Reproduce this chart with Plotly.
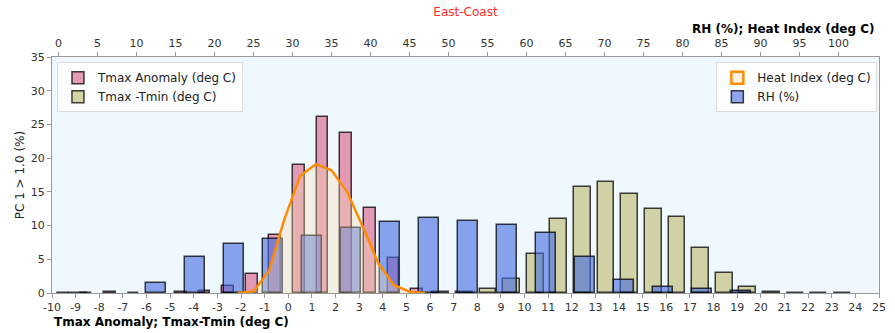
import plotly.graph_objects as go

# ---------------- data ----------------
# Tmax Anomaly histogram (bottom axis, deg C)
tmax_anom_x = [-9.55, -8.55, -7.55, -6.55, -4.55, -3.55, -2.55, -1.55, -0.55,
               0.45, 1.45, 2.45, 3.45, 4.45, 5.45]
tmax_anom_y = [0.05, 0.05, 0.1, 0.05, 0.2, 0.3, 1.0, 2.8, 8.6,
               19.0, 26.1, 23.8, 12.6, 5.2, 0.65]

# Tmax - Tmin histogram (bottom axis, deg C)
tmax_tmin_x = [6.45, 7.45, 8.45, 9.45, 10.45, 11.45, 12.45, 13.45, 14.45,
               15.45, 16.45, 17.45, 18.45, 19.45, 20.45, 21.45, 22.45, 23.45]
tmax_tmin_y = [0.1, 0.1, 0.65, 2.05, 5.8, 11.0, 15.7, 16.4, 14.7,
               12.4, 11.2, 6.7, 2.9, 0.9, 0.1, 0.05, 0.05, 0.05]

# RH histogram (top axis, %)
rh_x = [2.5, 12.5, 17.5, 22.5, 27.5, 32.5, 37.5, 42.5, 47.5, 52.5,
        57.5, 62.5, 67.5, 72.5, 77.5, 82.5, 87.5]
rh_y = [0.05, 1.5, 5.3, 7.2, 8.0, 8.4, 9.6, 10.6, 11.1, 10.7,
        10.1, 8.9, 5.4, 2.0, 0.9, 0.6, 0.3]

# Heat Index distribution (top axis, deg C)
hi_x = [23, 25, 27, 29, 31, 33, 35, 37, 39, 41, 43, 45, 47]
hi_y = [0.0, 0.24, 3.35, 11.1, 17.4, 19.1, 18.2, 15.0, 9.85, 4.4, 1.2, 0.2, 0.0]

bottom_ticks = list(range(-10, 26))
bottom_labels = [str(v) for v in bottom_ticks]
top_ticks = list(range(0, 101, 5))
y_ticks = list(range(0, 36, 5))

FONT = "DejaVu Sans"
EDGE = "rgba(0,0,0,0.75)"
SPINE = "#9a9a9a"
TICKC = "#333333"

fig = go.Figure()

fig.add_trace(go.Bar(x=tmax_anom_x, y=tmax_anom_y, width=0.5,
                     marker=dict(color="rgba(219,112,147,0.7)",
                                 line=dict(color=EDGE, width=1.5)),
                     name="Tmax Anomaly (deg C)", legend="legend",
                     xaxis="x", yaxis="y"))
fig.add_trace(go.Bar(x=tmax_tmin_x, y=tmax_tmin_y, width=0.71,
                     marker=dict(color="rgba(189,183,107,0.6)",
                                 line=dict(color=EDGE, width=1.5)),
                     name="Tmax -Tmin (deg C)", legend="legend",
                     xaxis="x", yaxis="y"))

# legend proxy for the heat index patch
fig.add_trace(go.Bar(x=[None], y=[None],
                     marker=dict(color="rgba(245,222,179,0.35)",
                                 line=dict(color="darkorange", width=2.5)),
                     name="Heat Index (deg C)", legend="legend2",
                     xaxis="x2", yaxis="y"))
fig.add_trace(go.Bar(x=rh_x, y=rh_y, width=2.5,
                     marker=dict(color="rgba(65,105,225,0.6)",
                                 line=dict(color=EDGE, width=1.5)),
                     name="RH (%)", legend="legend2",
                     xaxis="x2", yaxis="y"))
fig.add_trace(go.Scatter(x=hi_x, y=hi_y, mode="lines", fill="tozeroy",
                         fillcolor="rgba(245,222,179,0.35)",
                         line=dict(color="darkorange", width=2.5),
                         showlegend=False, xaxis="x2", yaxis="y"))

axis_common = dict(showgrid=False, zeroline=False, ticks="outside", ticklen=4,
                   tickcolor=SPINE, tickwidth=1, showline=True, linecolor=SPINE,
                   linewidth=1.3, tickfont=dict(family=FONT, size=11, color=TICKC))

fig.update_layout(
    width=895, height=333,
    margin=dict(l=52, r=9, t=57, b=40),
    paper_bgcolor="white", plot_bgcolor="#f0f8ff",
    barmode="overlay", bargap=0,
    font=dict(family=FONT, size=12, color="#222"),
    title=dict(text="East-Coast", x=0.5, xref="paper", xanchor="center",
               y=1 - 12 / 333, yref="container", yanchor="middle",
               font=dict(family=FONT, size=12, color="#ff2a2a")),
    xaxis=dict(range=[-10, 25], tickmode="array", tickvals=bottom_ticks,
               ticktext=bottom_labels, side="bottom", anchor="y", **axis_common),
    xaxis2=dict(range=[-0.84, 105.2], tickmode="array", tickvals=top_ticks,
                side="top", overlaying="x", anchor="y", **axis_common),
    yaxis=dict(range=[0, 35], tickmode="array", tickvals=y_ticks, mirror=True,
               **axis_common),
    legend=dict(x=0.006, y=0.978, xanchor="left", yanchor="top",
                bgcolor="rgba(255,255,255,0.8)", bordercolor="#dcdcdc",
                borderwidth=1, font=dict(family=FONT, size=12, color="#222"),
                tracegroupgap=0, itemwidth=30),
    legend2=dict(x=0.998, y=0.978, xanchor="right", yanchor="top",
                 bgcolor="rgba(255,255,255,0.8)", bordercolor="#dcdcdc",
                 borderwidth=1, font=dict(family=FONT, size=12, color="#222"),
                 tracegroupgap=0, itemwidth=30),
    annotations=[
        dict(text="<b>Tmax Anomaly; Tmax-Tmin (deg C)</b>", xref="paper", yref="paper",
             x=0, y=-29 / 236, xanchor="left", yanchor="middle", showarrow=False,
             font=dict(family=FONT, size=12, color="black")),
        dict(text="<b>RH (%); Heat Index (deg C)</b>", xref="paper", yref="paper",
             x=0.998, y=1 + 28 / 236, xanchor="right", yanchor="middle", showarrow=False,
             font=dict(family=FONT, size=12, color="black")),
        dict(text="PC 1 > 1.0 (%)", xref="paper", yref="paper", textangle=-90,
             x=-32 / 834, y=0.5, xanchor="center", yanchor="middle", showarrow=False,
             font=dict(family=FONT, size=12, color="#222")),
    ],
)

fig.write_html("out.html")
